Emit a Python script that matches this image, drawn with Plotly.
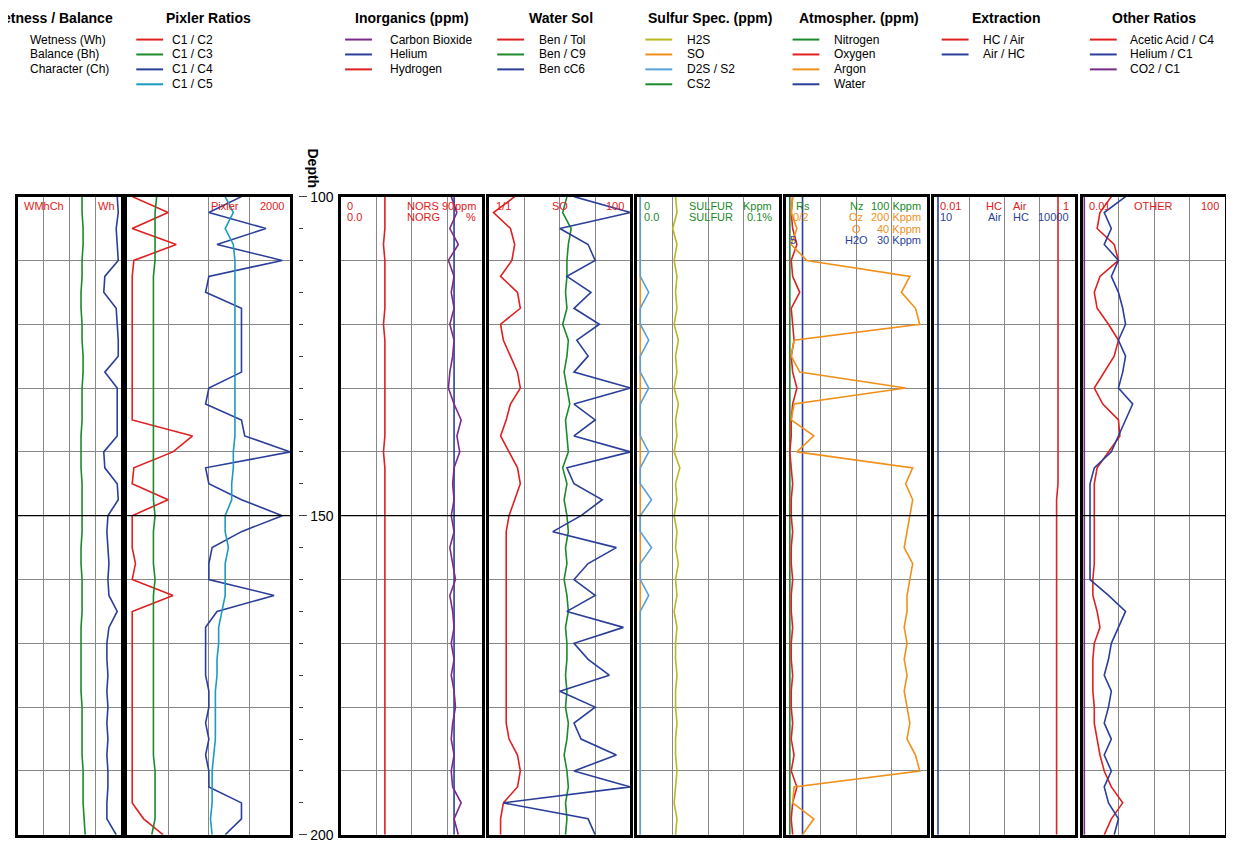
import plotly.graph_objects as go

# depth samples every 2.5 ft
depth = [100 + 2.5 * i for i in range(41)]

# values are in percent of each track width
wet_bh = [62,62,63,63,62,62,61,61,62,62, 63,63,62,62,62,61,61,61,62,62, 62,62,61,61,62,62,62,61,61,61, 61,61,62,62,62,62,63,63,63,64, 65]
wet_wh = [96,97,95,96,97,84,83,95,96,97, 97,84,96,96,96,96,83,84,96,97, 87,86,87,88,87,88,96,88,86,86, 87,86,87,86,87,86,87,87,86,86, 95]

pix_c2 = [3,25,3,30,4,3,3,3,3,3, 3,3,3,3,3,40,28,4,3,25, 3,3,3,5,3,28,3,3,3,3, 3,3,3,3,3,3,3,3,3,10, 22]
pix_c3 = [18,17,17,17,17,16,16,16,16,16, 16,16,16,16,16,16,16,16,16,16, 17,16,16,16,17,16,16,16,16,16, 16,16,16,16,16,16,17,17,17,17, 15]
pix_c4 = [70,50,85,55,95,50,48,70,70,70, 70,70,50,48,70,72,100,48,50,70, 95,70,52,50,50,90,55,48,48,48, 48,50,50,48,50,48,50,50,70,70, 60]
pix_c5 = [60,65,60,65,66,66,66,66,66,66, 66,66,66,66,66,66,65,65,64,64, 60,60,62,60,60,60,58,56,56,55, 55,54,54,54,54,53,52,52,52,51, 52]

ino_h2 = [31,31,31,30,31,31,31,31,30,31, 31,31,31,31,31,31,30,31,31,31, 31,31,31,31,31,31,31,31,31,31, 31,31,31,31,31,31,31,31,31,31, 31]
ino_co2 = [78,82,77,83,76,80,78,80,77,80, 79,77,76,80,85,82,84,80,79,80, 78,80,77,79,81,77,79,80,78,80, 78,80,81,79,78,80,78,79,85,80, 83]
ino_he = [80] * 41

ws_tol = [18,3,15,18,16,8,20,22,8,10, 15,20,22,15,12,8,14,20,22,18, 14,12,12,12,12,12,12,12,12,12, 12,12,12,12,14,20,22,20,10,8, 8]
ws_c9 = [55,52,58,56,55,55,54,55,52,56, 55,53,55,57,54,55,56,52,55,53, 55,56,54,55,53,55,56,54,55,55, 54,55,54,56,55,53,55,56,54,55, 54]
ws_c6 = [60,100,50,70,75,55,72,60,78,62, 70,60,100,60,75,60,100,55,60,80, 65,45,90,70,60,75,55,95,60,70, 85,50,75,60,65,90,60,100,10,70, 75]

su_h2s = [27,28,25,28,26,28,27,28,26,29, 27,28,26,29,27,28,26,30,27,28, 26,28,27,29,27,28,26,28,27,27, 28,27,27,28,27,27,28,27,26,28, 27]
su_so = [2] * 41
su_d2s = [2,2,2,2,2,2,8,2,2,8, 2,2,8,2,2,2,8,2,2,10, 2,2,10,2,2,8,2,2,2,2, 2,2,2,2,2,2,2,2,2,2, 2]

at_n2 = [3] * 41
at_o2 = [5,4,5,8,4,5,10,4,5,6, 4,5,8,5,4,4,3,4,5,4, 4,5,4,4,5,4,4,5,4,4, 5,4,4,5,4,6,4,8,5,4, 5]
at_ar = [5,4,8,4,15,88,82,92,95,6, 4,10,85,6,4,20,8,90,85,90, 88,86,84,90,88,86,86,84,86,84, 86,84,86,88,86,92,95,6,5,20, 12]
at_h2o = [12] * 41

ex_hcair = [88,88,88,88,88,88,88,88,88,88, 88,88,88,88,88,88,88,88,88,87, 87,87,87,87,87,87,87,87,87,87, 87,87,87,87,87,87,87,87,87,87, 87]
ex_airhc = [3] * 41

ot_acid = [20,12,10,22,25,12,8,10,18,25, 22,15,8,14,25,26,18,10,8,8, 8,8,8,8,7,7,10,12,8,7, 7,7,8,8,10,12,15,20,28,20, 15]
ot_he = [30,15,20,15,25,20,25,28,30,25, 30,28,25,35,30,25,20,8,5,5, 5,5,5,5,5,18,30,25,20,18, 15,20,18,15,20,15,20,15,18,25, 22]
ot_co2 = [1] * 41

RED, GREEN, BLUE, CYAN = "#e02020", "#1a8a2a", "#2b3f9a", "#1a9bc0"
PURPLE, YELLOW, ORANGE, LBLUE = "#7a2a8a", "#b8b820", "#f0901a", "#5aa0d8"

tracks = [
    [(wet_bh, GREEN), (wet_wh, BLUE)],
    [(pix_c2, RED), (pix_c3, GREEN), (pix_c4, BLUE), (pix_c5, CYAN)],
    [(ino_h2, RED), (ino_he, BLUE), (ino_co2, PURPLE)],
    [(ws_tol, RED), (ws_c9, GREEN), (ws_c6, BLUE)],
    [(su_so, ORANGE), (su_d2s, LBLUE), (su_h2s, YELLOW)],
    [(at_n2, GREEN), (at_h2o, BLUE), (at_o2, RED), (at_ar, ORANGE)],
    [(ex_airhc, BLUE), (ex_hcair, RED)],
    [(ot_co2, PURPLE), (ot_acid, RED), (ot_he, BLUE)],
]
edges = [(14, 118), (124, 288), (339, 481), (488, 630), (637, 779), (786, 928), (935, 1077), (1085, 1228)]

# screen pixel -> paper fraction (measured from test renders)
def px(x):
    return (x - 4) / 1241

def py(y):
    return 1 - (y - 12.3) / 837

fig = go.Figure()
ydom = [py(836), py(194)]
shapes = []
ann = []
for i, (series, (a, b)) in enumerate(zip(tracks, edges)):
    n = "" if i == 0 else str(i + 1)
    for vals, col in series:
        fig.add_trace(go.Scatter(x=vals, y=depth, mode="lines", line=dict(color=col, width=1.6),
                                 xaxis="x" + n, yaxis="y" + n, showlegend=False))
    fig.layout["xaxis" + n] = dict(domain=[px(a), px(b)], range=[0, 100], anchor="y" + n,
                                   showticklabels=False, ticks="", dtick=25, gridcolor="#888",
                                   gridwidth=1, zeroline=False, showline=True, linecolor="black",
                                   linewidth=2.5, mirror=True)
    fig.layout["yaxis" + n] = dict(domain=ydom, range=[200, 100], anchor="x" + n,
                                   showticklabels=False, ticks="", dtick=10, gridcolor="#888",
                                   zeroline=False, showline=True, linecolor="black",
                                   linewidth=2.5, mirror=True)
    shapes.append(dict(type="line", xref="x" + n + " domain", yref="y" + n, x0=0, x1=1, y0=150, y1=150,
                       line=dict(color="black", width=1.2)))

# depth axis
fig.add_trace(go.Scatter(x=[], y=[], xaxis="x", yaxis="y9", showlegend=False))
fig.layout["yaxis9"] = dict(domain=ydom, range=[200, 100], anchor="free", overlaying="y",
                            position=px(296), side="right", tickvals=[100, 150, 200],
                            ticks="outside", ticklen=8, showgrid=False, zeroline=False,
                            tickfont=dict(size=14, color="black"),
                            minor=dict(dtick=5, ticks="outside", ticklen=4),
                            showline=False)
ann.append(dict(x=px(311), y=py(166), xref="paper", yref="paper", text="<b>Depth</b>",
                textangle=90, showarrow=False, xanchor="center", yanchor="middle", font=dict(size=14)))

titles = [("Wetness / Balance", 48), ("Pixler Ratios", 206), ("Inorganics (ppm)", 410), ("Water Sol", 560),
          ("Sulfur Spec. (ppm)", 710), ("Atmospher. (ppm)", 860), ("Extraction", 1008), ("Other Ratios", 1157)]
for t, x in titles:
    ann.append(dict(x=px(x), y=py(14), xref="paper", yref="paper", text="<b>%s</b>" % t,
                    showarrow=False, xanchor="center", yanchor="middle", font=dict(size=14, color="black")))

legends = [
    (24, None, [("Wetness (Wh)", None), ("Balance (Bh)", None), ("Character (Ch)", None)]),
    (133, 167, [("C1 / C2", RED), ("C1 / C3", GREEN), ("C1 / C4", BLUE), ("C1 / C5", CYAN)]),
    (343, 386, [("Carbon Bioxide", PURPLE), ("Helium", BLUE), ("Hydrogen", RED)]),
    (496, 536, [("Ben / Tol", RED), ("Ben / C9", GREEN), ("Ben cC6", BLUE)]),
    (645, 685, [("H2S", YELLOW), ("SO", ORANGE), ("D2S / S2", LBLUE), ("CS2", GREEN)]),
    (793, 833, [("Nitrogen", GREEN), ("Oxygen", RED), ("Argon", ORANGE), ("Water", BLUE)]),
    (943, 983, [("HC / Air", RED), ("Air / HC", BLUE)]),
    (1092, 1130, [("Acetic Acid / C4", RED), ("Helium / C1", BLUE), ("CO2 / C1", PURPLE)]),
]
for x0, tx, items in legends:
    for k, (label, col) in enumerate(items):
        yy = 36 + 15 * k
        if col is None:
            ann.append(dict(x=px(x0), y=py(yy), xref="paper", yref="paper", text=label, xanchor="left",
                            yanchor="middle", showarrow=False, font=dict(size=12, color="black")))
        else:
            shapes.append(dict(type="line", xref="paper", yref="paper", x0=px(x0), x1=px(x0 + 27),
                               y0=py(yy), y1=py(yy), line=dict(color=col, width=2)))
            ann.append(dict(x=px(tx), y=py(yy), xref="paper", yref="paper", text=label, xanchor="left",
                            yanchor="middle", showarrow=False, font=dict(size=12, color="black")))

# track header labels
hdr = [
    (0, [("WMhCh", 0.04, 0, RED, "left"), ("Wh", 0.96, 0, RED, "right")]),
    (1, [("Pixler", 0.6, 0, RED, "center"), ("2000", 0.97, 0, RED, "right")]),
    (2, [("0", 0.03, 0, RED, "left"), ("0.0", 0.03, 1, RED, "left"), ("NORS", 0.45, 0, RED, "left"),
         ("NORG", 0.45, 1, RED, "left"), ("90", 0.7, 0, RED, "left"), ("ppm", 0.97, 0, RED, "right"),
         ("%", 0.97, 1, RED, "right")]),
    (3, [("1/1", 0.03, 0, RED, "left"), ("SO", 0.5, 0, RED, "center"), ("100", 0.97, 0, RED, "right")]),
    (4, [("0", 0.03, 0, GREEN, "left"), ("0.0", 0.03, 1, GREEN, "left"), ("SULFUR", 0.35, 0, GREEN, "left"),
         ("SULFUR", 0.35, 1, GREEN, "left"), ("Kppm", 0.97, 0, GREEN, "right"), ("0.1%", 0.97, 1, GREEN, "right")]),
    (5, [("Rs", 0.06, 0, GREEN, "left"), ("0/2", 0.04, 1, ORANGE, "left"), ("5", 0.02, 3, BLUE, "left"),
         ("Nz", 0.5, 0, GREEN, "center"), ("Oz", 0.5, 1, ORANGE, "center"), ("O", 0.5, 2, ORANGE, "center"),
         ("H2O", 0.5, 3, BLUE, "center"), ("100 Kppm", 0.97, 0, GREEN, "right"), ("200 Kppm", 0.97, 1, ORANGE, "right"),
         ("40 Kppm", 0.97, 2, ORANGE, "right"), ("30 Kppm", 0.97, 3, BLUE, "right")]),
    (6, [("0.01", 0.03, 0, RED, "left"), ("10", 0.03, 1, BLUE, "left"), ("HC", 0.5, 0, RED, "right"),
         ("Air", 0.5, 1, BLUE, "right"), ("Air", 0.55, 0, RED, "left"), ("HC", 0.55, 1, BLUE, "left"),
         ("1", 0.97, 0, RED, "right"), ("10000", 0.97, 1, BLUE, "right")]),
    (7, [("0.01", 0.03, 0, RED, "left"), ("OTHER", 0.5, 0, RED, "center"), ("100", 0.97, 0, RED, "right")]),
]
for i, labs in hdr:
    n = "" if i == 0 else str(i + 1)
    for t, xf, row, col, anc in labs:
        ann.append(dict(x=xf, y=100 + 1.8 * row + 0.2, xref="x" + n + " domain", yref="y" + n, text=t,
                        xanchor=anc, yanchor="top", showarrow=False, font=dict(size=11, color=col)))

fig.update_layout(width=1234, height=848, margin=dict(l=0, r=0, t=0, b=0), plot_bgcolor="white",
                  paper_bgcolor="white", shapes=shapes, annotations=ann,
                  font=dict(family="Liberation Sans, Arial", color="black"))
fig.write_html("out.html")
